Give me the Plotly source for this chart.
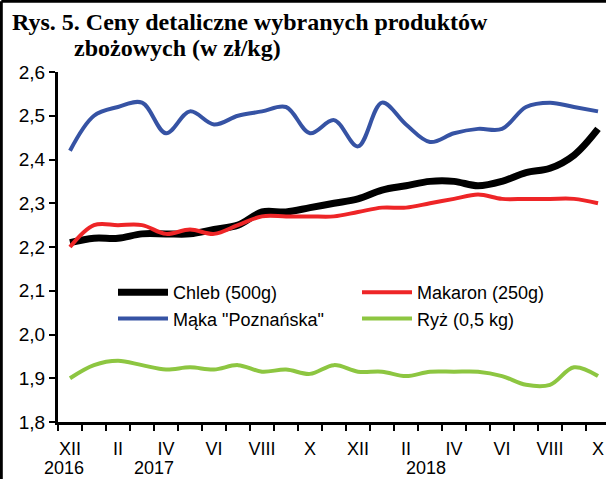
import plotly.graph_objects as go

# Monthly retail prices, XII 2016 - X 2018 (zł/kg)
months = ["XII", "I", "II", "III", "IV", "V", "VI", "VII", "VIII", "IX", "X", "XI",
          "XII", "I", "II", "III", "IV", "V", "VI", "VII", "VIII", "IX", "X"]

chleb = [2.21, 2.22, 2.22, 2.23, 2.23, 2.23, 2.24, 2.25, 2.28, 2.28, 2.29, 2.30,
         2.31, 2.33, 2.34, 2.35, 2.35, 2.34, 2.35, 2.37, 2.38, 2.41, 2.47]
makaron = [2.20, 2.25, 2.25, 2.25, 2.23, 2.24, 2.23, 2.25, 2.27, 2.27, 2.27, 2.27,
           2.28, 2.29, 2.29, 2.30, 2.31, 2.32, 2.31, 2.31, 2.31, 2.31, 2.30]
maka = [2.42, 2.50, 2.52, 2.53, 2.46, 2.51, 2.48, 2.50, 2.51, 2.52, 2.46, 2.49,
        2.43, 2.53, 2.48, 2.44, 2.46, 2.47, 2.47, 2.52, 2.53, 2.52, 2.51]
ryz = [1.900, 1.930, 1.940, 1.930, 1.920, 1.925, 1.920, 1.930, 1.915, 1.920, 1.910, 1.930,
       1.915, 1.915, 1.905, 1.915, 1.915, 1.915, 1.905, 1.885, 1.885, 1.925, 1.905]

series_names = ["Chleb (500g)", "Makaron (250g)", 'Mąka "Poznańska"', "Ryż (0,5 kg)"]
y_ticks = [1.8, 1.9, 2.0, 2.1, 2.2, 2.3, 2.4, 2.5, 2.6]
y_tick_labels = ["1,8", "1,9", "2,0", "2,1", "2,2", "2,3", "2,4", "2,5", "2,6"]
year_labels = ["2016", "2017", "2018"]

idx = list(range(len(months)))
label_idx = idx[::2]

FONT = "Liberation Sans, Arial, sans-serif"
SERIF = "Liberation Serif, Times New Roman, serif"

fig = go.Figure()
styles = [
    (chleb, "#000000", 7),
    (makaron, "#EE2527", 4),
    (maka, "#3653A4", 4),
    (ryz, "#8DC641", 4),
]
for name, (vals, color, width) in zip(series_names, styles):
    fig.add_trace(go.Scatter(
        x=idx, y=vals, name=name, mode="lines",
        line=dict(color=color, width=width, shape="spline", smoothing=1.0),
    ))

W_PLOT = 548.0
H_PLOT = 350.0

# year captions under the month labels
year_pos = [-0.25, 3.5, 14.83]
for txt, xp in zip(year_labels, year_pos):
    fig.add_annotation(x=xp, y=(422 - 468) / H_PLOT, xref="x", yref="paper", text=txt,
                       showarrow=False, font=dict(family=FONT, size=18, color="#000"),
                       xanchor="center", yanchor="middle")

# two-line chart heading
fig.add_annotation(x=(10 - 58) / W_PLOT, y=(422 - 22) / H_PLOT, xref="paper", yref="paper",
                   text="<b>Rys. 5. Ceny detaliczne wybranych produktów</b>",
                   showarrow=False, xanchor="left", yanchor="middle",
                   font=dict(family=SERIF, size=24, color="#000"))
fig.add_annotation(x=(72 - 58) / W_PLOT, y=(422 - 48) / H_PLOT, xref="paper", yref="paper",
                   text="<b>zbożowych (w zł/kg)</b>",
                   showarrow=False, xanchor="left", yanchor="middle",
                   font=dict(family=SERIF, size=24, color="#000"))

# frame along the top and left edges
fig.add_shape(type="line", xref="paper", yref="paper",
              x0=(1.3 - 58) / W_PLOT, x1=(606 - 58) / W_PLOT,
              y0=(422 - 1.3) / H_PLOT, y1=(422 - 1.3) / H_PLOT,
              line=dict(color="#000", width=3))
fig.add_shape(type="line", xref="paper", yref="paper",
              x0=(1.3 - 58) / W_PLOT, x1=(1.3 - 58) / W_PLOT,
              y0=(422 - 1.3) / H_PLOT, y1=(422 - 480) / H_PLOT,
              line=dict(color="#000", width=3))

fig.update_layout(
    width=606, height=479,
    margin=dict(l=58, r=0, t=72, b=57),
    paper_bgcolor="white", plot_bgcolor="white",
    font=dict(family=FONT, size=17, color="#000"),
    showlegend=True,
    legend=dict(
        orientation="h", x=(113 - 58) / W_PLOT, xanchor="left",
        y=(422 - 274) / H_PLOT, yanchor="top",
        bgcolor="rgba(0,0,0,0)", borderwidth=0,
        itemwidth=50, entrywidth=179, tracegroupgap=0,
        font=dict(family=FONT, size=18, color="#000"),
    ),
    xaxis=dict(
        range=[-0.5, 22.333], showgrid=False, zeroline=False,
        showline=True, linecolor="#000", linewidth=3,
        tickmode="array", tickvals=label_idx, ticktext=[months[i] for i in label_idx],
        ticks="", ticklabelstandoff=8,
        minor=dict(tickmode="array", tickvals=[i - 0.5 for i in idx],
                   ticks="outside", ticklen=6, tickwidth=2, tickcolor="#000"),
        tickfont=dict(family=FONT, size=18, color="#000"),
    ),
    yaxis=dict(
        range=[1.8, 2.6], showgrid=False, zeroline=False,
        showline=True, linecolor="#000", linewidth=3,
        tickmode="array", tickvals=y_ticks, ticktext=y_tick_labels,
        ticks="outside", ticklen=6, tickwidth=2, tickcolor="#000",
        ticklabelstandoff=0,
        tickfont=dict(family=FONT, size=19, color="#000"),
    ),
)

fig.write_html("out.html")
